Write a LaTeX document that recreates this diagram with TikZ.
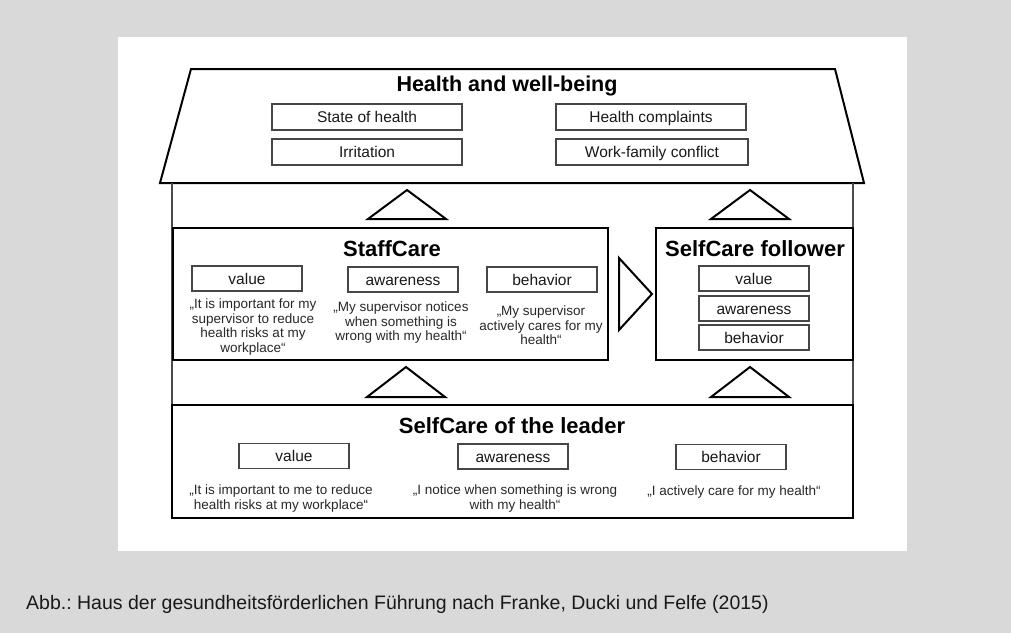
\documentclass[tikz,border=0pt]{standalone}
\usepackage{fontspec}
\setmainfont{Liberation Sans}
\definecolor{bggrey}{RGB}{217,217,217}
\definecolor{boxline}{RGB}{70,70,70}
\definecolor{quotetxt}{RGB}{40,40,40}
\frenchspacing
\begin{document}
\begin{tikzpicture}[x=1pt,y=-1pt,
  heavy/.style={draw=black,line width=2pt,line join=miter},
  wall/.style={draw=black!70,line width=1.2pt},
  bigbox/.style={draw=black,line width=2pt,inner sep=0pt},
  smallbox/.style={draw=boxline,line width=1.3pt,inner sep=0pt,minimum width=110pt,minimum height=25pt,text height=11.5pt,text depth=0.5pt,font=\fontsize{15.5}{18}\selectfont,text=black!90},
  roofbox/.style={smallbox,minimum width=190pt,minimum height=26pt},
  title/.style={font=\fontsize{22}{26}\selectfont\bfseries,text=black},
  quote/.style={font=\fontsize{13.5}{14.5}\selectfont,text=quotetxt,align=center,inner sep=0pt},
  arrowtri/.style={draw=black,line width=2pt,line join=miter,fill=white}
]
\useasboundingbox (0,0) rectangle (1011,633);
\fill[bggrey] (0,0) rectangle (1011,633);
\fill[white] (118,37) rectangle (907,551);

% roof
\coordinate (rtl) at (191,69);
\coordinate (rtr) at (835,69);
\coordinate (rbr) at (864,183);
\coordinate (rbl) at (160,183);
\draw[heavy] (rtl) -- (rtr) -- (rbr) -- (rbl) -- cycle;
\node[title,font=\fontsize{21.5}{26}\selectfont\bfseries] (hwb) at (507,86) {Health and well-being};
\node[roofbox] (soh) at (367,117) {State of health};
\node[roofbox] (hc) at (651,117) {Health complaints};
\node[roofbox] (irr) at (367,152) {Irritation};
\node[roofbox,minimum width=192pt] (wfc) at (652,152) {Work-family conflict};

% walls
\coordinate (wl1) at (172,183);
\coordinate (wl2) at (172,405);
\coordinate (wr1) at (853,183);
\coordinate (wr2) at (853,405);
\draw[wall] (wl1) -- (wl2);
\draw[wall] (wr1) -- (wr2);

% upper triangles
\draw[arrowtri] (368,219) -- (407,190) -- (446,219) -- cycle;
\draw[arrowtri] (711,219) -- (750,190) -- (789,219) -- cycle;

% StaffCare
\node[bigbox,minimum width=435pt,minimum height=132pt] (staff) at (390.5,294) {};
\node[title] (stafft) at (392,249) {StaffCare};
\node[smallbox] (sval) at (247,278.5) {value};
\node[smallbox] (saw) at (403,279.5) {awareness};
\node[smallbox] (sbeh) at (542,279.5) {behavior};
\node[quote] (sq1) at (253,327) {„It is important for my\\supervisor to reduce\\health risks at my\\workplace“};
\node[quote] (sq2) at (401,322.5) {„My supervisor notices\\when something is\\wrong with my health“};
\node[quote] (sq3) at (541,325.5) {„My supervisor\\actively cares for my\\health“};

% right triangle
\draw[arrowtri] (619,258) -- (652,294) -- (619,330) -- cycle;

% SelfCare follower
\node[bigbox,minimum width=197pt,minimum height=132pt] (foll) at (754.5,294) {};
\node[title] (follt) at (755,249) {SelfCare follower};
\node[smallbox] (fval) at (754,278.5) {value};
\node[smallbox] (faw) at (754,308.5) {awareness};
\node[smallbox] (fbeh) at (754,337.5) {behavior};

% lower triangles
\draw[arrowtri] (367,397) -- (406,367) -- (445,397) -- cycle;
\draw[arrowtri] (711,397) -- (750,367) -- (789,397) -- cycle;

% SelfCare of the leader
\node[bigbox,minimum width=681pt,minimum height=113pt] (lead) at (512.5,461.5) {};
\node[title] (leadt) at (512,426) {SelfCare of the leader};
\node[smallbox] (lval) at (294,456) {value};
\node[smallbox] (law) at (513,456.5) {awareness};
\node[smallbox] (lbeh) at (731,457) {behavior};
\node[quote] (lq1) at (281,498.5) {„It is important to me to reduce\\health risks at my workplace“};
\node[quote] (lq2) at (515,498.5) {„I notice when something is wrong\\with my health“};
\node[quote] (lq3) at (734,491.5) {„I actively care for my health“};

% caption
\node[anchor=west,inner sep=0pt,font=\fontsize{19.5}{22}\selectfont,text=black!90] (cap) at (26,604) {Abb.: Haus der gesundheitsförderlichen Führung nach Franke, Ducki und Felfe (2015)};
\end{tikzpicture}
\end{document}
